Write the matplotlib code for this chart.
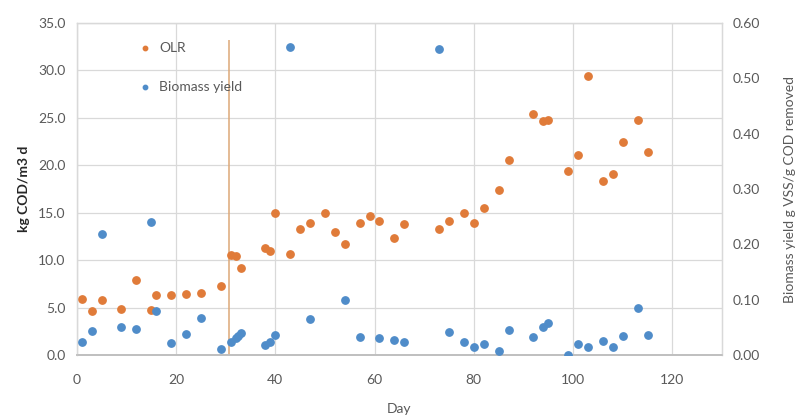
import matplotlib
matplotlib.use("Agg")
import matplotlib.pyplot as plt
import numpy as np

plt.rcParams["font.family"] = ["Lato", "DejaVu Sans"]

# OLR (left axis, kg COD/m3 d)
olr_day = [1, 3, 5, 9, 12, 15, 16, 19, 22, 25, 29, 31, 32, 33, 38, 39, 40, 43, 45, 47,
           50, 52, 54, 57, 59, 61, 64, 66, 73, 75, 78, 80, 82, 85, 87, 92, 94, 95, 99,
           101, 103, 106, 108, 110, 113, 115]
olr_val = [5.9, 4.6, 5.8, 4.8, 7.9, 4.7, 6.3, 6.3, 6.4, 6.5, 7.3, 10.5, 10.4, 9.2, 11.3,
           11.0, 15.0, 10.7, 13.3, 13.9, 15.0, 13.0, 11.7, 13.9, 14.7, 14.1, 12.3, 13.8,
           13.3, 14.1, 15.0, 13.9, 15.5, 17.4, 20.6, 25.4, 24.7, 24.8, 19.4, 21.1, 29.4,
           18.3, 19.1, 22.5, 24.8, 21.4]

# Biomass yield (right axis, g VSS/g COD removed)
bio_day = [1, 3, 5, 9, 12, 15, 16, 19, 22, 25, 29, 31, 32, 32.5, 33, 38, 39, 40, 43, 47,
           54, 57, 61, 64, 66, 73, 75, 78, 80, 82, 85, 87, 92, 94, 95, 99, 101, 103,
           106, 108, 110, 113, 115]
bio_val = [0.023, 0.043, 0.218, 0.050, 0.047, 0.241, 0.080, 0.021, 0.038, 0.067, 0.010,
           0.024, 0.030, 0.035, 0.039, 0.019, 0.024, 0.037, 0.557, 0.065, 0.099, 0.032,
           0.030, 0.027, 0.023, 0.553, 0.042, 0.024, 0.014, 0.020, 0.008, 0.045, 0.032,
           0.051, 0.057, 0.000, 0.020, 0.014, 0.026, 0.014, 0.034, 0.085, 0.036]

marker_day = 30.6
marker_top = 33.2

orange = "#E07B39"
blue = "#4F8CC9"
txt = "#595959"
grid_c = "#D9D9D9"

fig = plt.figure(figsize=(8.04, 4.16), dpi=100)
ax = fig.add_axes([0.0954, 0.1466, 0.8026, 0.7981])
ax2 = ax.twinx()

ax.set_axisbelow(True)
ax.grid(True, color=grid_c, linewidth=0.9)
ax.vlines(marker_day, 0, marker_top, color="#DDA878", linewidth=1.1, zorder=2)

ax.scatter(olr_day, olr_val, s=28, color=orange, zorder=3, label="OLR")
ax2.scatter(bio_day, bio_val, s=28, color=blue, zorder=3, label="Biomass yield")

ax.set_xlim(0, 130)
ax.set_ylim(0, 35)
ax2.set_ylim(0, 0.6)
ax.set_xticks(np.arange(0, 121, 20))
ax.set_yticks(np.arange(0, 35.1, 5))
ax.set_yticklabels([f"{v:.1f}" for v in np.arange(0, 35.1, 5)])
ax2.set_yticks(np.arange(0, 0.61, 0.1))
ax2.set_yticklabels([f"{v:.2f}" for v in np.arange(0, 0.61, 0.1)])

for a in (ax, ax2):
    a.tick_params(length=0, labelsize=10, colors=txt, pad=8)
    for s in a.spines.values():
        s.set_color(grid_c)
        s.set_linewidth(0.9)
    a.spines["bottom"].set_color("#BFBFBF")
    a.spines["bottom"].set_linewidth(1.2)
ax.tick_params(axis="x", pad=14)

ax.set_xlabel("Day", fontsize=10, color=txt, labelpad=12)
ax.set_ylabel("kg COD/m3 d", fontsize=10, color="#262626", fontweight="bold", labelpad=6)
ax2.set_ylabel("Biomass yield g VSS/g COD removed", fontsize=10, color=txt, labelpad=17)

h1, l1 = ax.get_legend_handles_labels()
h2, l2 = ax2.get_legend_handles_labels()
ax.legend(h1 + h2, l1 + l2, loc="upper left", bbox_to_anchor=(0.065, 0.98),
          frameon=False, fontsize=10, labelcolor=txt, markerscale=0.6,
          handletextpad=0.0, labelspacing=1.9)

fig.savefig("out.png", dpi=100)
